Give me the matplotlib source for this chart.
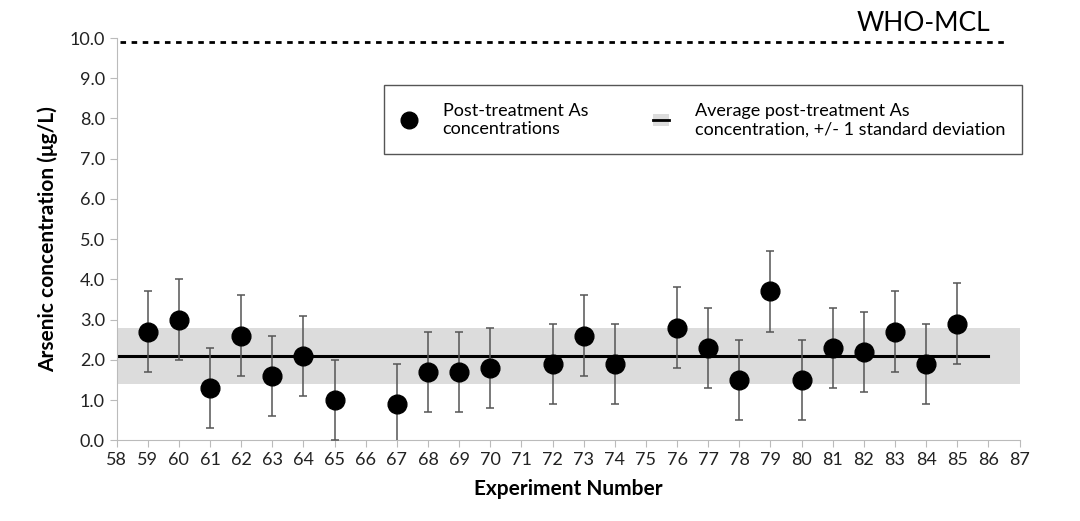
import matplotlib.pyplot as plt
from matplotlib.lines import Line2D
from matplotlib.patches import Patch
from matplotlib.legend_handler import HandlerTuple

# experiment numbers and post-treatment As concentrations (ug/L)
experiments = [59, 60, 61, 62, 63, 64, 65, 67, 68, 69, 70, 72,
               73, 74, 76, 77, 78, 79, 80, 81, 82, 83, 84, 85]
arsenic = [2.7, 3.0, 1.3, 2.6, 1.6, 2.1, 1.0, 0.9, 1.7, 1.7, 1.8, 1.9,
           2.6, 1.9, 2.8, 2.3, 1.5, 3.7, 1.5, 2.3, 2.2, 2.7, 1.9, 2.9]
errors = [1.0] * len(experiments)

mean_as = 2.1
std_as = 0.7
who_mcl = 9.9

x_ticks = list(range(58, 88))
y_ticks = [0, 1, 2, 3, 4, 5, 6, 7, 8, 9, 10]

plt.rcParams["font.family"] = ["Lato", "DejaVu Sans"]

fig = plt.figure(figsize=(10.8, 5.21), dpi=100)
ax = fig.add_axes([0.108, 0.155, 0.836, 0.772])

ax.fill_between([58, 87], mean_as - std_as, mean_as + std_as,
                color="#dcdcdc", lw=0, zorder=1)
ax.plot([58, 86], [mean_as, mean_as], color="black", lw=2.2, zorder=2)
ax.plot([58.1, 86.5], [who_mcl, who_mcl], color="black", lw=2,
        linestyle=(0, (2, 2)), zorder=2, clip_on=False)

ax.errorbar(experiments, arsenic, yerr=errors, fmt="o", color="black",
            ms=13.5, ecolor="#555555", elinewidth=1.1, capsize=3,
            capthick=1.1, zorder=3)

ax.set_xlim(58, 87)
ax.set_ylim(0, 10)
ax.set_xticks(x_ticks)
ax.set_yticks(y_ticks)
ax.set_yticklabels([f"{v:.1f}" for v in y_ticks])
ax.tick_params(axis="both", colors="#bbbbbb", labelcolor="#222222",
               labelsize=13, length=5, direction="out")
for side in ["top", "right"]:
    ax.spines[side].set_visible(False)
for side in ["left", "bottom"]:
    ax.spines[side].set_color("#bbbbbb")

ax.set_xlabel("Experiment Number", fontsize=15, fontweight="bold", labelpad=8)
ax.set_ylabel("Arsenic concentration (μg/L)", fontsize=15,
              fontweight="bold", labelpad=8)

fig.text(0.855, 0.955, "WHO-MCL", fontsize=19, ha="center", va="center")

handles = [
    Line2D([], [], marker="o", color="black", linestyle="none", ms=12),
    (Patch(facecolor="#dcdcdc", edgecolor="none"),
     Line2D([], [], color="black", lw=2)),
]
labels = ["Post-treatment As\nconcentrations",
          "Average post-treatment As\nconcentration, +/- 1 standard deviation"]
leg = ax.legend(handles, labels, ncol=2, loc="upper right",
                bbox_to_anchor=(1.003, 0.882), fontsize=13,
                handler_map={tuple: HandlerTuple(ndivide=1, pad=0)},
                handlelength=0.9, columnspacing=3.6, handletextpad=1.4,
                borderpad=0.95, borderaxespad=0, fancybox=False,
                framealpha=1)
leg.get_frame().set_edgecolor("#555555")
leg.get_frame().set_linewidth(1.0)

fig.savefig("out.png", dpi=100)
